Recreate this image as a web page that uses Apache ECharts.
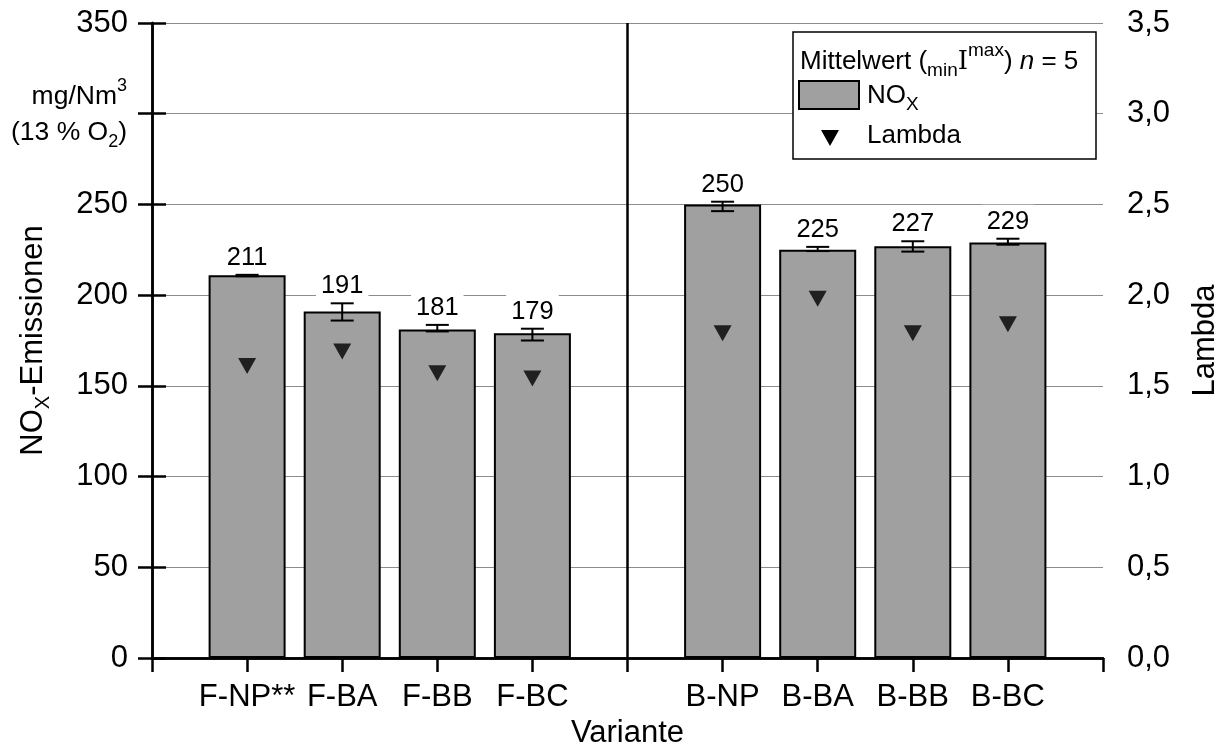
<!DOCTYPE html>
<html>
<head>
<meta charset="utf-8">
<script src="https://cdn.jsdelivr.net/npm/echarts@6/dist/echarts.min.js"></script>
<style>
  html, body { margin: 0; padding: 0; background: #fff; }
  #chart { width: 1227px; height: 747px; }
</style>
</head>
<body>
<div id="chart"></div>
<script>
// Varianten und ihre Position auf der x-Achse (Lücke bei 5 trennt F- und B-Gruppe)
const categories = ['F-NP**', 'F-BA', 'F-BB', 'F-BC', 'B-NP', 'B-BA', 'B-BB', 'B-BC'];
const positions  = [1, 2, 3, 4, 6, 7, 8, 9];
const groupDivider = 5;

// NOx-Emissionen in mg/Nm³ (13 % O2): Mittelwert, Minimum, Maximum (n = 5)
const noxMean = [211, 191, 181, 179, 250, 225, 227, 229];
const noxMin  = [210.4, 186.0, 180.0, 175.0, 246.3, 224.3, 224.0, 227.8];
const noxMax  = [211.2, 195.5, 183.6, 181.5, 251.5, 226.6, 229.7, 231.1];

// Luftzahl Lambda
const lambda = [1.61, 1.69, 1.57, 1.54, 1.79, 1.98, 1.79, 1.84];

// Achsen (der Teilstrich bei 300 trägt statt der Zahl die Einheit)
const noxAxis    = { min: 0, max: 350, interval: 50, unitTick: 300 };
const lambdaAxis = { min: 0, max: 3.5, interval: 0.5 };

const FONT = '"Liberation Sans", Arial, sans-serif';
const SERIF = '"DejaVu Serif", "Liberation Serif", serif';
const BAR_GREY = '#a0a0a0';
const AXIS_W = 2.5;
const AXIS_FS = 31;
const LEG_FS = 26;

const barData     = positions.map((p, i) => [p, noxMean[i]]);
const errorData   = positions.map((p, i) => [p, noxMin[i], noxMax[i], noxMean[i]]);
const lambdaData  = positions.map((p, i) => [p, lambda[i]]);

const chart = echarts.init(document.getElementById('chart'), null, { renderer: 'canvas' });

const axisLineStyle = { show: true, lineStyle: { color: '#000', width: AXIS_W } };
const axisTickStyle = { show: true, inside: false, length: 14, lineStyle: { color: '#000', width: AXIS_W } };

const option = {
  backgroundColor: '#fff',
  animation: false,
  textStyle: { fontFamily: FONT, color: '#000' },
  grid: {
    left: 152, right: 124, top: 23, bottom: 89,
    containLabel: false,
    outerBoundsMode: 'none'
  },
  xAxis: [
    {
      type: 'value',
      position: 'bottom',
      min: 0, max: 10, interval: 1,
      axisLine: axisLineStyle,
      axisTick: axisTickStyle,
      splitLine: { show: false },
      axisLabel: {
        color: '#000', fontFamily: FONT, fontSize: AXIS_FS, margin: 24,
        showMinLabel: true, showMaxLabel: true,
        formatter: v => {
          const i = positions.indexOf(v);
          return i >= 0 ? categories[i] : '';
        }
      },
      name: 'Variante',
      nameLocation: 'middle',
      nameGap: 58,
      nameTextStyle: { color: '#000', fontFamily: FONT, fontSize: AXIS_FS }
    },
    {
      type: 'value',
      position: 'top',
      min: 0, max: 10, interval: 1,
      axisLine: axisLineStyle,
      axisTick: { show: false },
      axisLabel: { show: false },
      splitLine: { show: false }
    }
  ],
  yAxis: [
    {
      type: 'value',
      position: 'left',
      min: noxAxis.min, max: noxAxis.max, interval: noxAxis.interval,
      axisLine: axisLineStyle,
      axisTick: axisTickStyle,
      axisLabel: {
        color: '#000', fontFamily: FONT, fontSize: AXIS_FS, margin: 24,
        formatter: v => (v === noxAxis.unitTick ? '' : String(v))
      },
      splitLine: { show: true, lineStyle: { color: '#8c8c8c', width: 1 } },
      name: '{a|NO}{sub|X}{a|-Emissionen}',
      nameLocation: 'middle',
      nameRotate: 90,
      nameGap: 102,
      nameTextStyle: {
        color: '#000',
        rich: {
          a:   { fontFamily: FONT, fontSize: AXIS_FS, color: '#000', lineHeight: 34 },
          sub: { fontFamily: FONT, fontSize: 20, color: '#000', lineHeight: 20, padding: [21, 0, 0, 0] }
        }
      }
    },
    {
      type: 'value',
      position: 'right',
      min: lambdaAxis.min, max: lambdaAxis.max, interval: lambdaAxis.interval,
      axisLine: axisLineStyle,
      axisTick: axisTickStyle,
      axisLabel: {
        color: '#000', fontFamily: FONT, fontSize: AXIS_FS, margin: 24,
        formatter: v => v.toFixed(1).replace('.', ',')
      },
      splitLine: { show: false },
      name: 'Lambda',
      nameLocation: 'middle',
      nameRotate: 90,
      nameGap: 87,
      nameTextStyle: { color: '#000', fontFamily: FONT, fontSize: AXIS_FS }
    }
  ],
  series: [
    {
      name: 'NOx',
      type: 'bar',
      xAxisIndex: 0,
      yAxisIndex: 0,
      data: barData,
      barWidth: 77,
      itemStyle: { color: BAR_GREY, borderColor: '#000', borderWidth: 2 },
      markLine: {
        silent: true,
        symbol: ['none', 'none'],
        label: { show: false },
        lineStyle: { color: '#000', width: AXIS_W, type: 'solid' },
        data: [{ xAxis: groupDivider }]
      },
      z: 2
    },
    {
      name: 'Min/Max',
      type: 'custom',
      xAxisIndex: 0,
      yAxisIndex: 0,
      data: errorData,
      encode: { x: 0, y: [1, 2] },
      z: 3,
      renderItem: (params, api) => {
        const x = api.value(0);
        const lo = api.coord([x, api.value(1)]);
        const hi = api.coord([x, api.value(2)]);
        const mean = api.value(3);
        const cap = 11.5;
        const stroke = { stroke: '#000', lineWidth: 2 };
        return {
          type: 'group',
          children: [
            { type: 'line', shape: { x1: lo[0], y1: lo[1], x2: hi[0], y2: hi[1] }, style: stroke },
            { type: 'line', shape: { x1: lo[0] - cap, y1: lo[1], x2: lo[0] + cap, y2: lo[1] }, style: stroke },
            { type: 'line', shape: { x1: hi[0] - cap, y1: hi[1], x2: hi[0] + cap, y2: hi[1] }, style: stroke },
            {
              type: 'text',
              x: hi[0], y: hi[1] - 3,
              style: {
                text: String(mean),
                fill: '#000',
                font: '25.5px ' + FONT,
                align: 'center',
                verticalAlign: 'bottom',
                backgroundColor: '#fff',
                padding: [4, 5, 1, 5]
              }
            }
          ]
        };
      }
    },
    {
      name: 'Lambda',
      type: 'scatter',
      xAxisIndex: 0,
      yAxisIndex: 1,
      data: lambdaData,
      symbol: 'path://M0,0L18,0L9,16Z',
      symbolSize: [18, 16],
      itemStyle: { color: '#000' },
      z: 4
    }
  ],
  graphic: [
    // Einheit links oben (an Stelle der Zahl 300)
    {
      type: 'text', x: 127, y: 97, z: 10,
      style: {
        text: '{a|mg/Nm}{sup|3}',
        align: 'right', verticalAlign: 'middle',
        rich: {
          a:   { fontFamily: FONT, fontSize: 26.5, fill: '#000', lineHeight: 28 },
          sup: { fontFamily: FONT, fontSize: 18, fill: '#000', lineHeight: 18, padding: [0, 0, 22, 0] }
        }
      }
    },
    {
      type: 'text', x: 127, y: 133, z: 10,
      style: {
        text: '{a|(13 % O}{sub|2}{a|)}',
        align: 'right', verticalAlign: 'middle',
        rich: {
          a:   { fontFamily: FONT, fontSize: 26.5, fill: '#000', lineHeight: 28 },
          sub: { fontFamily: FONT, fontSize: 18, fill: '#000', lineHeight: 18, padding: [18, 0, 0, 0] }
        }
      }
    },
    // Legende
    {
      type: 'rect', z: 20,
      shape: { x: 793, y: 32, width: 303, height: 127 },
      style: { fill: '#fff', stroke: '#000', lineWidth: 1.5 }
    },
    {
      type: 'text', x: 800, y: 62, z: 21,
      style: {
        text: '{a|Mittelwert (}{sub|min}{i|I}{sup|max}{a|) }{it|n}{a| = 5}',
        align: 'left', verticalAlign: 'middle',
        rich: {
          a:   { fontFamily: FONT, fontSize: LEG_FS, fill: '#000', lineHeight: 28 },
          it:  { fontFamily: FONT, fontSize: LEG_FS, fontStyle: 'italic', fill: '#000', lineHeight: 28 },
          i:   { fontFamily: SERIF, fontSize: LEG_FS, fill: '#000', lineHeight: 28 },
          sub: { fontFamily: FONT, fontSize: 19, fill: '#000', lineHeight: 19, padding: [18, 0, 0, 0] },
          sup: { fontFamily: FONT, fontSize: 19, fill: '#000', lineHeight: 19, padding: [0, 0, 22, 0] }
        }
      }
    },
    {
      type: 'rect', z: 21,
      shape: { x: 799, y: 81, width: 60, height: 28 },
      style: { fill: BAR_GREY, stroke: '#000', lineWidth: 2 }
    },
    {
      type: 'text', x: 867, y: 96, z: 21,
      style: {
        text: '{a|NO}{sub|X}',
        align: 'left', verticalAlign: 'middle',
        rich: {
          a:   { fontFamily: FONT, fontSize: LEG_FS, fill: '#000', lineHeight: 28 },
          sub: { fontFamily: FONT, fontSize: 19, fill: '#000', lineHeight: 19, padding: [18, 0, 0, 0] }
        }
      }
    },
    {
      type: 'polygon', z: 21,
      shape: { points: [[821, 130], [839, 130], [830, 146]] },
      style: { fill: '#000' }
    },
    {
      type: 'text', x: 867, y: 136, z: 21,
      style: {
        text: 'Lambda',
        fill: '#000',
        font: LEG_FS + 'px ' + FONT,
        align: 'left', verticalAlign: 'middle'
      }
    }
  ]
};

chart.setOption(option);
</script>
</body>
</html>
